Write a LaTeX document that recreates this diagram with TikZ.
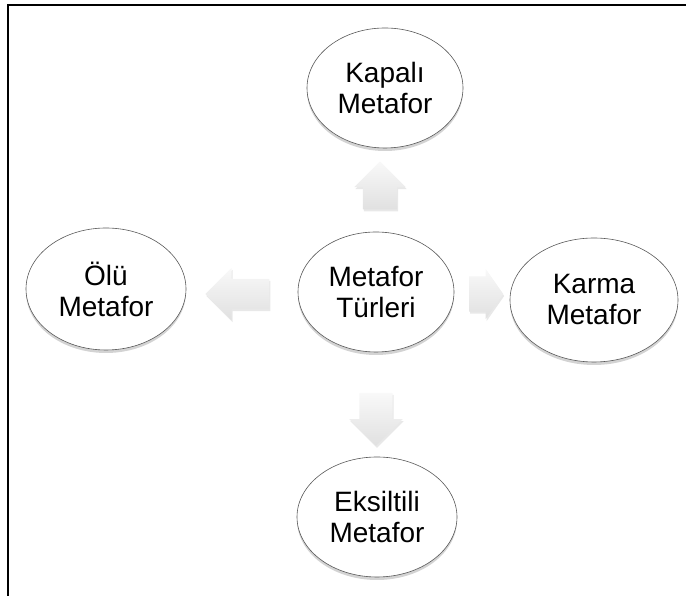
\documentclass[tikz,border=0pt]{standalone}
\usepackage{fontspec}
\setmainfont{Liberation Sans}
\usetikzlibrary{shapes.geometric,shapes.arrows,shadows}
\tikzset{
  kind/.style={ellipse, draw=gray!70!black, line width=0.6pt, fill=white,
    align=center, inner sep=0pt, font=\fontsize{28}{31}\selectfont,
    drop shadow={shadow xshift=0pt, shadow yshift=-3pt, opacity=0.35, fill=gray}},
  blockarrow/.style={single arrow, draw=none, inner sep=0pt,
    top color=gray!5, bottom color=gray!24,
    drop shadow={shadow xshift=1pt, shadow yshift=-2pt, opacity=0.18, fill=gray}}
}
\begin{document}
\begin{tikzpicture}[x=1pt,y=1pt]
        \useasboundingbox (0,0) rectangle (686,596);
        \draw[line width=1.2pt] (8,0) -- (8,591) -- (686,591);
        \node[kind, minimum width=156, minimum height=120] at (385,508) (kapali) {Kapalı\\Metafor};
        \node[kind, minimum width=160, minimum height=122] at (106,307) (olu) {Ölü\\Metafor};
        \node[kind, minimum width=156, minimum height=120] at (376,304) (turler) {Metafor\\Türleri};
        \node[kind, minimum width=168, minimum height=124] at (594,296) (karma) {Karma\\Metafor};
        \node[kind, minimum width=160, minimum height=120] at (377,79) (eksiltili) {Eksiltili\\Metafor};
        \node[blockarrow, shape border rotate=90, minimum height=48, inner xsep=17pt,
          single arrow head extend=8.5pt] at (380,402) (up) {};
        \node[blockarrow, shape border rotate=180, minimum height=64, inner ysep=15pt,
          single arrow head extend=11pt] at (245,302) (left) {};
        \node[blockarrow, minimum height=34, inner ysep=17.5pt,
          single arrow head extend=7.5pt, single arrow tip angle=110] at (480,302) (right) {};
        \node[blockarrow, shape border rotate=270, minimum height=53, inner xsep=16.5pt,
          single arrow head extend=10pt] at (376,185) (down) {};
      \end{tikzpicture}
\end{document}
